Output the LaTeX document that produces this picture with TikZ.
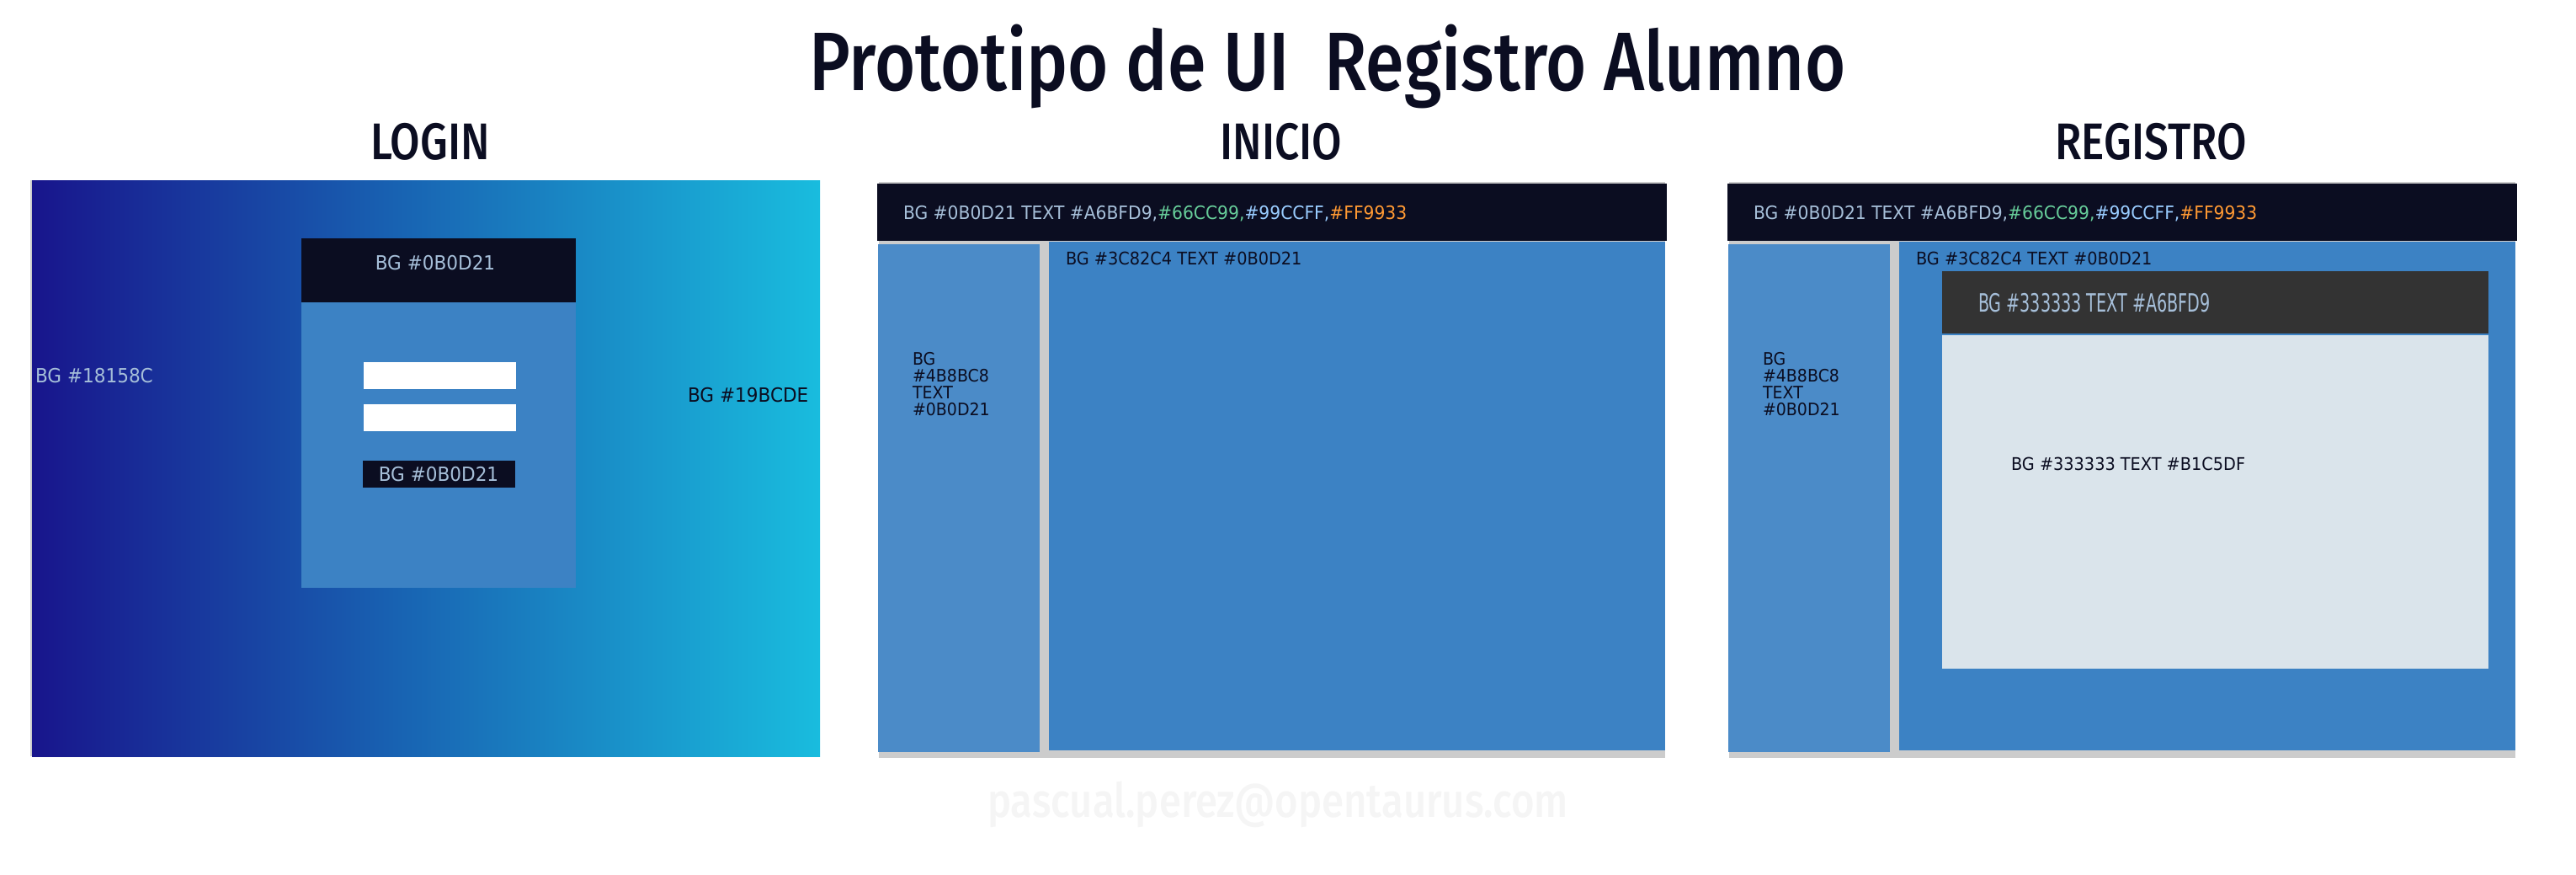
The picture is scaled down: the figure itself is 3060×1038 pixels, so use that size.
\documentclass[tikz,border=0pt]{standalone}
\usepackage{fontspec}
\setmainfont{DejaVu Sans}[FakeStretch=0.93]
\newfontfamily\titlefont{Fira Sans Medium}[FakeStretch=0.84]
\newfontfamily\narrowfont{DejaVu Sans}[FakeStretch=0.64]
\usepackage{tikz}
\definecolor{uidark}{RGB}{11, 13, 33}
\definecolor{uitext}{RGB}{166, 191, 217}
\definecolor{uigreen}{RGB}{102, 204, 153}
\definecolor{uisky}{RGB}{153, 204, 255}
\definecolor{uiorange}{RGB}{255, 153, 51}
\definecolor{uimain}{RGB}{60, 130, 196}
\definecolor{uiside}{RGB}{75, 139, 200}
\definecolor{uigrey}{RGB}{204, 204, 204}
\definecolor{uicard}{RGB}{51, 51, 51}
\definecolor{uilight}{RGB}{218, 228, 235}
\definecolor{loginleft}{RGB}{24, 21, 140}
\definecolor{loginright}{RGB}{25, 188, 222}

\begin{document}
\begin{tikzpicture}[x=0.01cm, y=-0.01cm,
			lbl/.style={inner sep=0pt, outer sep=0pt, anchor=base west, font=\fontsize{6.2}{7}\selectfont},
			sidelbl/.style={lbl, text=uidark, font=\fontsize{5.8}{5.7}\selectfont},
			heading/.style={inner sep=0pt, anchor=base, text=uidark, font=\titlefont\fontsize{17.4}{20}\selectfont}]
			%Bildbereich
			\useasboundingbox[fill=white] (0,0) rectangle (3060,1038);
			% Titel
			\node[heading, font=\titlefont\fontsize{28}{32}\selectfont] (title) at (1577,107) {Prototipo de UI\ \ Registro Alumno};
			\node[heading] (hlogin) at (511,189) {LOGIN};
			\node[heading] (hinicio) at (1522,189) {INICIO};
			\node[heading] (hregistro) at (2555,189) {REGISTRO};
			% LOGIN
			\fill[uigrey] (36,214) rectangle (38,898);
			\fill[left color=loginleft, right color=loginright] (38,214) rectangle (974,898);
			\node[lbl, text=uitext, font=\fontsize{6.6}{7}\selectfont] (bgleft) at (42,454) {BG \#18158C};
			\node[lbl, text=uidark, font=\fontsize{6.6}{7}\selectfont] (bgright) at (817,477) {BG \#19BCDE};
			\fill[uimain] (358,359) rectangle (684,698);
			\fill[uidark] (358,283) rectangle (684,359);
			\node[lbl, anchor=base, text=uitext, font=\fontsize{6.6}{7}\selectfont] (cardhead) at (517,320) {BG \#0B0D21};
			\fill[white] (432,430) rectangle (613,462);
			\fill[white] (432,480) rectangle (613,512);
			\fill[uidark] (431,547) rectangle (612,579);
			\node[lbl, anchor=base, text=uitext, font=\fontsize{6.6}{7}\selectfont] (button) at (521,571) {BG \#0B0D21};
			% INICIO und REGISTRO
			\foreach \dx/\pn in {0/ini, 1010/reg} {
				\fill[uigrey] (1044+\dx,216) rectangle (1978+\dx,900);
				\fill[uidark] (1042+\dx,218) rectangle (1980+\dx,286);
				\fill[uiside] (1043+\dx,290) rectangle (1235+\dx,893);
				\fill[uimain] (1246+\dx,287) rectangle (1978+\dx,891);
				\node[lbl, text=uitext] (\pn top) at (1073+\dx,260) {BG \#0B0D21 TEXT \#A6BFD9,\textcolor{uigreen}{\#66CC99,}\textcolor{uisky}{\#99CCFF,}\textcolor{uiorange}{\#FF9933}};
				\node[lbl, text=uidark, font=\fontsize{5.9}{7}\selectfont] (\pn main) at (1266+\dx,314) {BG \#3C82C4 TEXT \#0B0D21};
				\foreach \t [count=\i] in {BG, \#4B8BC8, TEXT, \#0B0D21}
					\node[sidelbl] (\pn side\i) at (1084+\dx,413.5+20*\i) {\t};
			}
			% Formular
			\fill[uicard] (2307,322) rectangle (2956,396);
			\fill[uilight] (2307,398) rectangle (2956,794);
			\node[lbl, text=uitext, font=\narrowfont\fontsize{8.5}{9}\selectfont] (formhead) at (2350,370) {BG \#333333 TEXT \#A6BFD9};
			\node[lbl, text=uidark, font=\fontsize{5.9}{7}\selectfont] (formbody) at (2389,558) {BG \#333333 TEXT \#B1C5DF};
			% Wasserzeichen
			\node[heading, text=black!4, font=\titlefont\fontsize{16}{18}\selectfont] (mail) at (1518,970) {pascual.perez@opentaurus.com};
		\end{tikzpicture}
\end{document}
